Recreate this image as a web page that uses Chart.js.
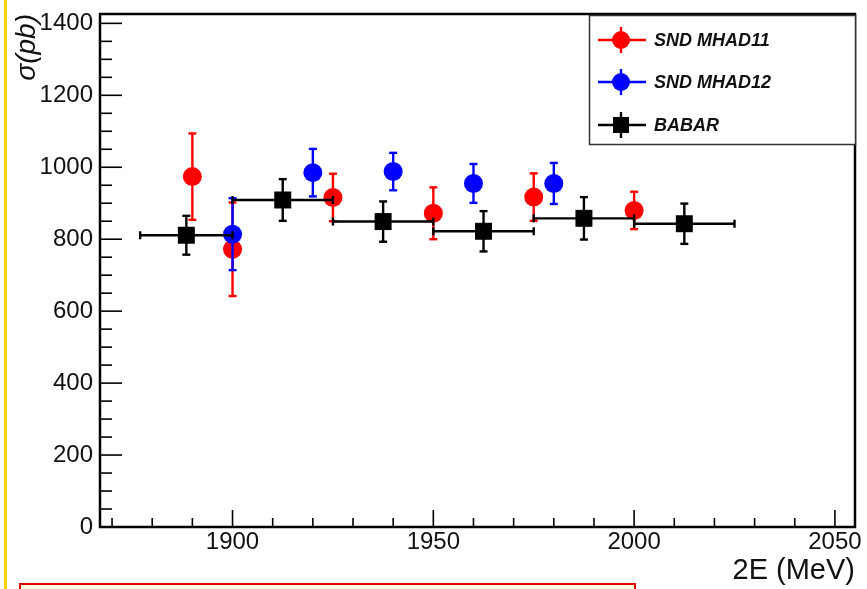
<!DOCTYPE html>
<html>
<head>
<meta charset="utf-8">
<script src="https://cdn.jsdelivr.net/npm/chart.js@4.4.0/dist/chart.umd.min.js"></script>
<style>
    html, body { margin: 0; padding: 0; background: #fff; }
    #wrap { position: relative; width: 867px; height: 589px; overflow: hidden; }
    #edge { position: absolute; left: 4px; top: 0; width: 3px; height: 589px; background: #ffd200; }
    #note { position: absolute; left: 19px; top: 583px; width: 613px; height: 20px; border: 2px solid #e00000; background: #ffffe0; }
</style>
</head>
<body>
<div id="wrap">
    <canvas id="sigmaChart" width="867" height="589"></canvas>
    <div id="edge"></div>
    <div id="note"></div>
</div>
<script>
(function() {
    'use strict';

    // SND MHAD11 (red)
    var snd11X = [1890, 1900, 1925, 1950, 1975, 2000];
    var snd11Y = [974, 772, 916, 872, 917, 880];
    var snd11Err = [120, 130, 66, 72, 66, 52];

    // SND MHAD12 (blue)
    var snd12X = [1900, 1920, 1940, 1960, 1980];
    var snd12Y = [814, 985, 988, 955, 955];
    var snd12Err = [100, 66, 52, 54, 57];

    // BABAR (black, binned)
    var babarX = [1888.5, 1912.5, 1937.5, 1962.5, 1987.5, 2012.5];
    var babarXLow = [1877, 1900, 1925, 1950, 1975, 2000];
    var babarXHigh = [1900, 1925, 1950, 1975, 2000, 2025];
    var babarY = [811, 909, 849, 822, 858, 843];
    var babarErr = [54, 58, 56, 56, 59, 56];

    var xTicks = [1900, 1950, 2000, 2050];
    var yTicks = [0, 200, 400, 600, 800, 1000, 1200, 1400];

    Chart.defaults.font.family = '"Liberation Sans", Arial, sans-serif';

    function points(xs, ys) {
        return xs.map(function(x, i) { return { x: x, y: ys[i] }; });
    }

    function line(ctx, x1, y1, x2, y2) {
        ctx.beginPath();
        ctx.moveTo(x1, y1);
        ctx.lineTo(x2, y2);
        ctx.stroke();
    }

    // error bars, drawn just before the markers of each dataset
    var errorBars = {
        id: 'errorBars',
        beforeDatasetDraw: function(chart, args) {
            var ds = chart.data.datasets[args.index];
            var ctx = chart.ctx;
            var xs = chart.scales.x, ys = chart.scales.y;
            ctx.save();
            ctx.strokeStyle = ds.borderColor;
            ctx.lineWidth = 2.4;
            ds.data.forEach(function(p, i) {
                var px = xs.getPixelForValue(p.x);
                var py = ys.getPixelForValue(p.y);
                var top = ys.getPixelForValue(p.y + ds.yErr[i]);
                var bot = ys.getPixelForValue(p.y - ds.yErr[i]);
                line(ctx, px, top, px, bot);
                line(ctx, px - 4, top, px + 4, top);
                line(ctx, px - 4, bot, px + 4, bot);
                if (ds.xLow) {
                    var l = xs.getPixelForValue(ds.xLow[i]);
                    var r = xs.getPixelForValue(ds.xHigh[i]);
                    line(ctx, l, py, r, py);
                    line(ctx, l, py - 4, l, py + 4);
                    line(ctx, r, py - 4, r, py + 4);
                }
            });
            ctx.restore();
        }
    };

    // ROOT-like frame with inward ticks
    var frame = {
        id: 'frame',
        afterDraw: function(chart) {
            var a = chart.chartArea, ctx = chart.ctx;
            var xs = chart.scales.x, ys = chart.scales.y;
            ctx.save();
            ctx.strokeStyle = '#000';
            ctx.lineWidth = 2.5;
            ctx.strokeRect(a.left, a.top, a.right - a.left, a.bottom - a.top);
            ctx.lineWidth = 1.6;
            var v, px, py;
            for (v = 1870; v <= 2050; v += 10) {
                px = xs.getPixelForValue(v);
                line(ctx, px, a.bottom, px, a.bottom - (v % 50 === 0 ? 17 : 9));
            }
            for (v = 0; v <= 1400; v += 50) {
                py = ys.getPixelForValue(v);
                line(ctx, a.left, py, a.left + (v % 200 === 0 ? 22 : 12), py);
            }
            ctx.restore();
        }
    };

    // legend box in the top right corner
    var legendBox = {
        id: 'legendBox',
        afterDraw: function(chart) {
            var ctx = chart.ctx;
            var rows = [40, 82, 125];
            ctx.save();
            ctx.fillStyle = '#fff';
            ctx.fillRect(589.5, 15.5, 266, 129);
            ctx.strokeStyle = '#333';
            ctx.lineWidth = 1.5;
            ctx.strokeRect(589.5, 15.5, 266, 129);
            chart.data.datasets.forEach(function(ds, i) {
                var y = rows[i];
                ctx.strokeStyle = ds.borderColor;
                ctx.fillStyle = ds.backgroundColor;
                ctx.lineWidth = 2.4;
                line(ctx, 598, y, 646, y);
                line(ctx, 621, y - 13, 621, y + 13);
                if (ds.pointStyle === 'rect') {
                    ctx.fillRect(613, y - 8, 16, 16);
                } else {
                    ctx.beginPath();
                    ctx.arc(621, y, 9, 0, Math.PI * 2);
                    ctx.fill();
                }
                ctx.fillStyle = '#111';
                ctx.font = 'italic bold 18px "Liberation Sans", Arial, sans-serif';
                ctx.textBaseline = 'middle';
                ctx.fillText(ds.label, 654, y + 1);
            });
            ctx.restore();
        }
    };

    var ctx = document.getElementById('sigmaChart');

    new Chart(ctx, {
        type: 'scatter',
        data: {
            datasets: [
                {
                    label: 'SND MHAD11',
                    data: points(snd11X, snd11Y),
                    yErr: snd11Err,
                    borderColor: '#ff0000',
                    backgroundColor: '#ff0000',
                    pointStyle: 'circle',
                    pointRadius: 9.5,
                    pointBorderWidth: 0,
                    order: 3
                },
                {
                    label: 'SND MHAD12',
                    data: points(snd12X, snd12Y),
                    yErr: snd12Err,
                    borderColor: '#0000ff',
                    backgroundColor: '#0000ff',
                    pointStyle: 'circle',
                    pointRadius: 9.5,
                    pointBorderWidth: 0,
                    order: 2
                },
                {
                    label: 'BABAR',
                    data: points(babarX, babarY),
                    yErr: babarErr,
                    xLow: babarXLow,
                    xHigh: babarXHigh,
                    borderColor: '#000000',
                    backgroundColor: '#000000',
                    pointStyle: 'rect',
                    pointRadius: 12,
                    pointBorderWidth: 0,
                    order: 1
                }
            ]
        },
        options: {
            responsive: false,
            animation: false,
            devicePixelRatio: 1,
            layout: {
                padding: { top: 14, right: 9, bottom: 0, left: 0 }
            },
            plugins: {
                legend: { display: false },
                tooltip: { enabled: false }
            },
            scales: {
                x: {
                    type: 'linear',
                    min: 1867,
                    max: 2055,
                    afterBuildTicks: function(scale) {
                        scale.ticks = xTicks.map(function(v) { return { value: v }; });
                    },
                    afterFit: function(scale) {
                        scale.height = 62;
                        scale.paddingLeft = 0;
                        scale.paddingRight = 0;
                    },
                    grid: { display: false, drawTicks: false },
                    border: { display: false },
                    ticks: {
                        font: { size: 24 },
                        color: '#111',
                        padding: 1,
                        maxRotation: 0,
                        autoSkip: false,
                        callback: function(v) { return String(v); }
                    },
                    title: {
                        display: true,
                        text: '2E (MeV)',
                        align: 'end',
                        color: '#111',
                        font: { size: 29 },
                        padding: { top: 0, bottom: 1 }
                    }
                },
                y: {
                    type: 'linear',
                    min: 0,
                    max: 1426,
                    afterBuildTicks: function(scale) {
                        scale.ticks = yTicks.map(function(v) { return { value: v }; });
                    },
                    afterFit: function(scale) {
                        scale.width = 100;
                        scale.paddingTop = 0;
                        scale.paddingBottom = 0;
                    },
                    grid: { display: false, drawTicks: false },
                    border: { display: false },
                    ticks: {
                        font: { size: 24 },
                        color: '#111',
                        padding: 7,
                        autoSkip: false,
                        callback: function(v) { return String(v); }
                    },
                    title: {
                        display: true,
                        text: 'σ(pb)',
                        align: 'end',
                        color: '#111',
                        font: { size: 28, style: 'italic' },
                        padding: { top: 10, bottom: 0 }
                    }
                }
            }
        },
        plugins: [errorBars, frame, legendBox]
    });
})();
</script>
</body>
</html>
